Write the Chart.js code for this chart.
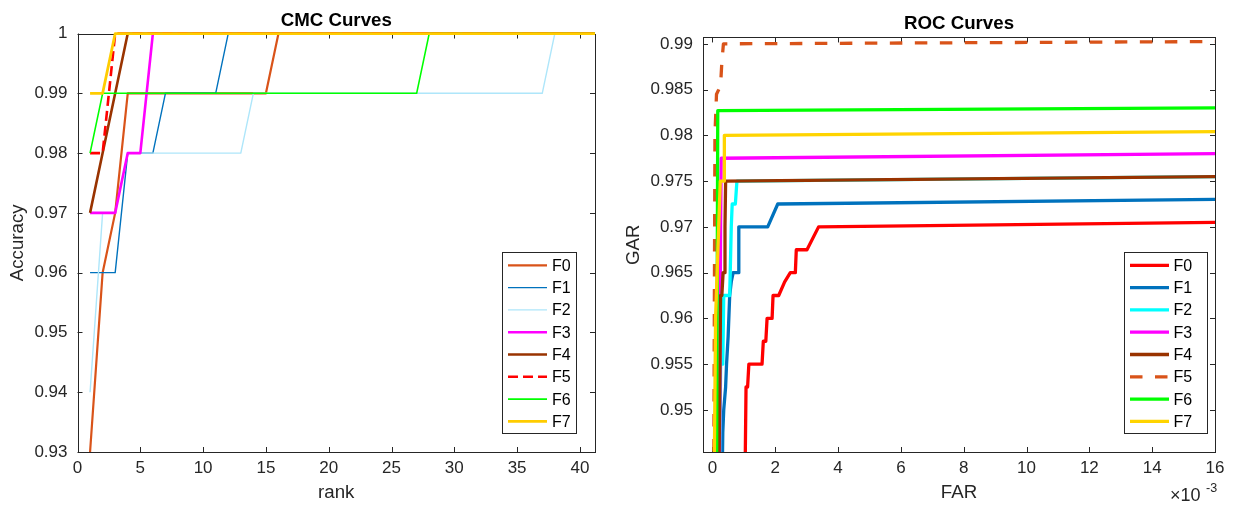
<!DOCTYPE html>
<html lang="en">
<head>
<meta charset="UTF-8" />
<title>CMC / ROC</title>
<style>
  html, body { margin: 0; padding: 0; background: #fff; }
  #marco { position: relative; width: 1234px; height: 510px; }
  #cmc { position: absolute; left: 0; top: 0; }
  #roc { position: absolute; left: 610px; top: 0; }
</style>
</head>
<body>
<div id="marco">
  <canvas id="cmc" width="610" height="510"></canvas>
  <canvas id="roc" width="624" height="510"></canvas>
</div>

<script src="https://cdn.jsdelivr.net/npm/chart.js"></script>
<script>
// ---- datos ----
const nombres = ["F0", "F1", "F2", "F3", "F4", "F5", "F6", "F7"];

const rangos = [
  1, 2, 3, 4, 5, 6, 7, 8, 9, 10,
  11, 12, 13, 14, 15, 16, 17, 18, 19, 20,
  21, 22, 23, 24, 25, 26, 27, 28, 29, 30,
  31, 32, 33, 34, 35, 36, 37, 38, 39, 40,
  41, 42
];

const cmcF0 = [
  0.93, 0.96, 0.97, 0.99, 0.99, 0.99, 0.99, 0.99, 0.99, 0.99,
  0.99, 0.99, 0.99, 0.99, 0.99, 1, 1, 1, 1, 1,
  1, 1, 1, 1, 1, 1, 1, 1, 1, 1,
  1, 1, 1, 1, 1, 1, 1, 1, 1, 1,
  1, 1
];
const cmcF1 = [
  0.96, 0.96, 0.96, 0.98, 0.98, 0.98, 0.99, 0.99, 0.99, 0.99,
  0.99, 1, 1, 1, 1, 1, 1, 1, 1, 1,
  1, 1, 1, 1, 1, 1, 1, 1, 1, 1,
  1, 1, 1, 1, 1, 1, 1, 1, 1, 1,
  1, 1
];
const cmcF2 = [
  0.94, 0.97, 0.97, 0.98, 0.98, 0.98, 0.98, 0.98, 0.98, 0.98,
  0.98, 0.98, 0.98, 0.99, 0.99, 0.99, 0.99, 0.99, 0.99, 0.99,
  0.99, 0.99, 0.99, 0.99, 0.99, 0.99, 0.99, 0.99, 0.99, 0.99,
  0.99, 0.99, 0.99, 0.99, 0.99, 0.99, 0.99, 1, 1, 1,
  1, 1
];
const cmcF3 = [
  0.97, 0.97, 0.97, 0.98, 0.98, 1, 1, 1, 1, 1,
  1, 1, 1, 1, 1, 1, 1, 1, 1, 1,
  1, 1, 1, 1, 1, 1, 1, 1, 1, 1,
  1, 1, 1, 1, 1, 1, 1, 1, 1, 1,
  1, 1
];
const cmcF4 = [
  0.97, 0.98, 0.99, 1, 1, 1, 1, 1, 1, 1,
  1, 1, 1, 1, 1, 1, 1, 1, 1, 1,
  1, 1, 1, 1, 1, 1, 1, 1, 1, 1,
  1, 1, 1, 1, 1, 1, 1, 1, 1, 1,
  1, 1
];
const cmcF5 = [
  0.98, 0.98, 1, 1, 1, 1, 1, 1, 1, 1,
  1, 1, 1, 1, 1, 1, 1, 1, 1, 1,
  1, 1, 1, 1, 1, 1, 1, 1, 1, 1,
  1, 1, 1, 1, 1, 1, 1, 1, 1, 1,
  1, 1
];
const cmcF6 = [
  0.98, 0.99, 0.99, 0.99, 0.99, 0.99, 0.99, 0.99, 0.99, 0.99,
  0.99, 0.99, 0.99, 0.99, 0.99, 0.99, 0.99, 0.99, 0.99, 0.99,
  0.99, 0.99, 0.99, 0.99, 0.99, 0.99, 0.99, 1, 1, 1,
  1, 1, 1, 1, 1, 1, 1, 1, 1, 1,
  1, 1
];
const cmcF7 = [
  0.99, 0.99, 1, 1, 1, 1, 1, 1, 1, 1,
  1, 1, 1, 1, 1, 1, 1, 1, 1, 1,
  1, 1, 1, 1, 1, 1, 1, 1, 1, 1,
  1, 1, 1, 1, 1, 1, 1, 1, 1, 1,
  1, 1
];

// ROC: FAR en unidades de 1e-3
const rocFar0 = [1.03, 1.07, 1.12, 1.16, 1.58, 1.62, 1.7, 1.74, 1.9, 1.93, 2.11, 2.3, 2.48, 2.64, 2.67, 3.01, 3.38, 16];
const rocGar0 = [0.94, 0.9525, 0.9525, 0.955, 0.955, 0.9575, 0.9575, 0.96, 0.96, 0.9625, 0.9625, 0.964, 0.965, 0.965, 0.9675, 0.9675, 0.97, 0.9705];
const rocFar1 = [0.3, 0.33, 0.36, 0.42, 0.45, 0.5, 0.55, 0.6, 0.66, 0.82, 0.84, 1.76, 2.08, 16];
const rocGar1 = [0.94, 0.9475, 0.95, 0.9525, 0.955, 0.958, 0.9625, 0.964, 0.965, 0.965, 0.97, 0.97, 0.9725, 0.973];
const rocFar2 = [0.22, 0.26, 0.33, 0.36, 0.55, 0.6, 0.63, 0.73, 0.78, 16];
const rocGar2 = [0.94, 0.955, 0.955, 0.9625, 0.9625, 0.97, 0.9725, 0.9725, 0.975, 0.9755];
const rocFar3 = [0.22, 0.26, 0.28, 16];
const rocGar3 = [0.94, 0.97, 0.9775, 0.978];
const rocFar4 = [0.2, 0.26, 0.3, 0.34, 0.38, 0.4, 0.42, 16];
const rocGar4 = [0.94, 0.9625, 0.9625, 0.965, 0.965, 0.97, 0.975, 0.9755];
const rocFar5 = [0.04, 0.08, 0.13, 0.2, 0.26, 0.3, 0.35, 16];
const rocGar5 = [0.94, 0.98, 0.9845, 0.985, 0.9855, 0.988, 0.99, 0.99025];
const rocFar6 = [0.13, 0.17, 16];
const rocGar6 = [0.94, 0.9827, 0.983];
const rocFar7 = [0.05, 0.1, 0.2, 0.25, 0.37, 0.38, 16];
const rocGar7 = [0.94, 0.96, 0.97, 0.975, 0.975, 0.98, 0.9804];

// ---- estilos ----
const coloresCmc = ["#D95319", "#0072BD", "#AEE6FA", "#FF00FF", "#993300", "#FF0000", "#00FF00", "#FFCC00"];
const grosorCmc = [2.2, 1.4, 1.4, 2.6, 2.6, 2.6, 1.6, 2.8];
const coloresRoc = ["#FF0000", "#0072BD", "#00FFFF", "#FF00FF", "#993300", "#D95319", "#00FF00", "#FFD400"];

const fuente = "'Liberation Sans', Arial, sans-serif";
const gris = "#262626";
Chart.defaults.font.family = fuente;
Chart.defaults.color = gris;

// caja y marcas hacia dentro, como en matlab
const cajaEjes = {
  id: "cajaEjes",
  beforeDatasetsDraw(chart) {
    const { ctx, chartArea: a, scales } = chart;
    const r = (v) => Math.round(v) + 0.5;
    const lt = 5;
    ctx.save();
    ctx.strokeStyle = gris;
    ctx.lineWidth = 1;
    ctx.beginPath();
    scales.x.ticks.forEach((t) => {
      const px = r(scales.x.getPixelForValue(t.value));
      ctx.moveTo(px, a.bottom); ctx.lineTo(px, a.bottom - lt);
      ctx.moveTo(px, a.top); ctx.lineTo(px, a.top + lt);
    });
    scales.y.ticks.forEach((t) => {
      const py = r(scales.y.getPixelForValue(t.value));
      ctx.moveTo(a.left, py); ctx.lineTo(a.left + lt, py);
      ctx.moveTo(a.right, py); ctx.lineTo(a.right - lt, py);
    });
    ctx.stroke();
    ctx.strokeRect(r(a.left), r(a.top), Math.round(a.right) - Math.round(a.left), Math.round(a.bottom) - Math.round(a.top));
    ctx.restore();
  }
};

const leyenda = {
  id: "leyenda",
  afterDatasetsDraw(chart, args, o) {
    const { ctx, chartArea: a } = chart;
    const x0 = Math.round(a.right - o.margenDer - o.ancho);
    const y0 = Math.round(a.bottom - o.margenInf - o.alto);
    ctx.save();
    ctx.fillStyle = "#fff";
    ctx.fillRect(x0, y0, o.ancho, o.alto);
    ctx.strokeStyle = gris;
    ctx.lineWidth = 1;
    ctx.strokeRect(x0 + 0.5, y0 + 0.5, o.ancho, o.alto);
    chart.data.datasets.forEach((ds, i) => {
      const y = y0 + o.primera + i * o.paso;
      ctx.beginPath();
      ctx.setLineDash(ds.borderDash || []);
      ctx.lineWidth = ds.borderWidth;
      ctx.strokeStyle = ds.borderColor;
      ctx.moveTo(x0 + o.lineaIni, y);
      ctx.lineTo(x0 + o.lineaFin, y);
      ctx.stroke();
      ctx.setLineDash([]);
      ctx.fillStyle = "#000";
      ctx.font = "16px " + fuente;
      ctx.textBaseline = "middle";
      ctx.fillText(ds.label, x0 + o.texto, y + 1);
    });
    ctx.restore();
  }
};

const exponente = {
  id: "exponente",
  afterDraw(chart) {
    const { ctx, chartArea: a } = chart;
    ctx.save();
    ctx.fillStyle = gris;
    ctx.textBaseline = "alphabetic";
    ctx.font = "18px " + fuente;
    ctx.fillText("\u00D710", a.right - 45, 501);
    ctx.font = "12.5px " + fuente;
    ctx.fillText("-3", a.right - 9, 492);
    ctx.restore();
  }
};

function ejesBase(o) {
  return {
    x: {
      type: "linear",
      min: o.xMin, max: o.xMax,
      grid: { display: false, drawTicks: false },
      border: { display: false },
      ticks: {
        stepSize: o.xPaso, includeBounds: false, autoSkip: false, maxRotation: 0,
        padding: 5.8, font: { size: 17 }, color: gris
      },
      title: { display: true, text: o.xTitulo, font: { size: 18.7 }, color: gris, padding: { top: 0, bottom: 5.8 } },
      afterFit: (s) => { s.height = 58; }
    },
    y: {
      type: "linear",
      min: o.yMin, max: o.yMax,
      grid: { display: false, drawTicks: false },
      border: { display: false },
      ticks: {
        stepSize: o.yPaso, includeBounds: false, autoSkip: false, padding: 10,
        font: { size: 17 }, color: gris,
        callback: (v) => String(Number(v.toFixed(4)))
      },
      title: { display: true, text: o.yTitulo, font: { size: 18.7 }, color: gris, padding: { top: o.yTitPad, bottom: 0 } },
      afterFit: (s) => { s.width = o.yAncho; }
    }
  };
}

// ---- CMC ----
const valoresCmc = [cmcF0, cmcF1, cmcF2, cmcF3, cmcF4, cmcF5, cmcF6, cmcF7];
const dsCmc = valoresCmc.map((vals, i) => ({
  label: nombres[i],
  data: rangos.map((r, k) => ({ x: r, y: vals[k] })),
  borderColor: coloresCmc[i],
  borderWidth: grosorCmc[i],
  borderDash: i === 5 ? [10, 5] : [],
  borderJoinStyle: "round",
  pointRadius: 0,
  tension: 0,
  fill: false,
  order: 7 - i,
  clip: { left: 0, top: 4, right: 0, bottom: 2 }
}));

new Chart(document.getElementById("cmc"), {
  type: "line",
  data: { datasets: dsCmc },
  options: {
    responsive: false,
    animation: false,
    devicePixelRatio: 1,
    layout: { padding: { left: 0, right: 15, top: 0, bottom: 0 } },
    scales: ejesBase({
      xMin: 0, xMax: 41.2, xPaso: 5, xTitulo: "rank",
      yMin: 0.93, yMax: 1, yPaso: 0.01, yTitulo: "Accuracy", yTitPad: 6.8, yAncho: 77.5
    }),
    plugins: {
      legend: { display: false },
      tooltip: { enabled: false },
      title: {
        display: true, text: "CMC Curves", fullSize: false, color: "#000",
        font: { size: 18.7, weight: "bold" }, padding: { top: 9.3, bottom: 1.8 }
      },
      leyenda: { margenDer: 19, margenInf: 19, ancho: 74, alto: 181, primera: 13.3, paso: 22.3, lineaIni: 6, lineaFin: 45, texto: 50 }
    }
  },
  plugins: [cajaEjes, leyenda]
});

// ---- ROC ----
const farRoc = [rocFar0, rocFar1, rocFar2, rocFar3, rocFar4, rocFar5, rocFar6, rocFar7];
const garRoc = [rocGar0, rocGar1, rocGar2, rocGar3, rocGar4, rocGar5, rocGar6, rocGar7];
const dsRoc = farRoc.map((fx, i) => ({
  label: nombres[i],
  data: fx.map((f, k) => ({ x: f, y: garRoc[i][k] })),
  borderColor: coloresRoc[i],
  borderWidth: 3.3,
  borderDash: i === 5 ? [12.5, 12.5] : [],
  borderJoinStyle: "round",
  pointRadius: 0,
  tension: 0,
  fill: false,
  order: 7 - i,
  clip: { left: 0, top: 4, right: 0, bottom: 0 }
}));

new Chart(document.getElementById("roc"), {
  type: "line",
  data: { datasets: dsRoc },
  options: {
    responsive: false,
    animation: false,
    devicePixelRatio: 1,
    layout: { padding: { left: 0, right: 19, top: 0, bottom: 0 } },
    scales: ejesBase({
      xMin: -0.3, xMax: 16, xPaso: 2, xTitulo: "FAR",
      yMin: 0.9454, yMax: 0.9907, yPaso: 0.005, yTitulo: "GAR", yTitPad: 12.8, yAncho: 93
    }),
    plugins: {
      legend: { display: false },
      tooltip: { enabled: false },
      title: {
        display: true, text: "ROC Curves", fullSize: false, color: "#000",
        font: { size: 18.7, weight: "bold" }, padding: { top: 12.6, bottom: 2.4 }
      },
      leyenda: { margenDer: 8, margenInf: 19, ancho: 83, alto: 181, primera: 13.3, paso: 22.3, lineaIni: 6, lineaFin: 45, texto: 49.5 }
    }
  },
  plugins: [cajaEjes, leyenda, exponente]
});
</script>
</body>
</html>
